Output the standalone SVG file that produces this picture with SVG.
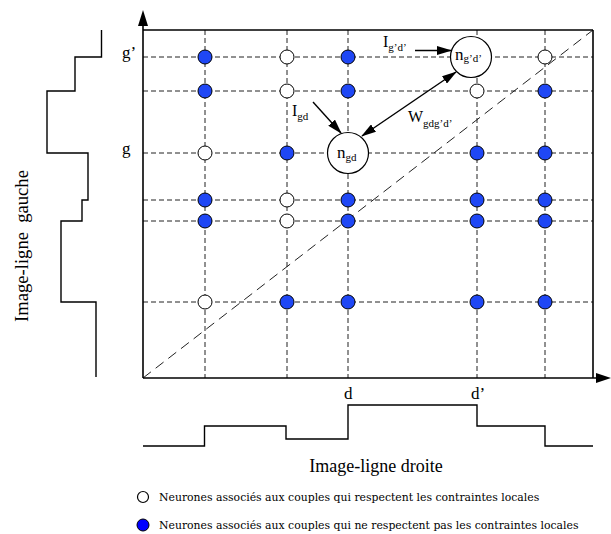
<svg xmlns="http://www.w3.org/2000/svg" width="611" height="534" viewBox="0 0 611 534">
<style>
.grid{stroke:#222;stroke-width:1;stroke-dasharray:5 3;fill:none}
.diag{stroke:#222;stroke-width:1;stroke-dasharray:10 6;fill:none}
.ax{stroke:#000;stroke-width:1.6;fill:none}
.step{stroke:#000;stroke-width:1.4;fill:none}
.b{fill:#1f47f5;stroke:#000;stroke-width:1}
.w{fill:#fff;stroke:#000;stroke-width:1}
.big{fill:#fff;stroke:#000;stroke-width:1.2}
.t{font-family:"Liberation Serif","Times New Roman",serif;fill:#000}
.leg{font-family:"DejaVu Serif",serif;font-size:10.85px;fill:#000}
.arr{stroke:#000;stroke-width:1.4;fill:none}
</style>
<defs>
<marker id="ah" markerWidth="15" markerHeight="9" refX="14" refY="4.5" orient="auto" markerUnits="userSpaceOnUse">
<path d="M0,0 L15,4.5 L0,9 Z" fill="#000"/>
</marker>
<marker id="ahs" markerWidth="15" markerHeight="9" refX="1" refY="4.5" orient="auto" markerUnits="userSpaceOnUse">
<path d="M15,0 L0,4.5 L15,9 Z" fill="#000"/>
</marker>
</defs>
<rect width="611" height="534" fill="#fff"/>

<g id="grid">
<line class="grid" x1="143" y1="57" x2="593" y2="57"/>
<line class="grid" x1="143" y1="91" x2="593" y2="91"/>
<line class="grid" x1="143" y1="153" x2="593" y2="153"/>
<line class="grid" x1="143" y1="200" x2="593" y2="200"/>
<line class="grid" x1="143" y1="221" x2="593" y2="221"/>
<line class="grid" x1="143" y1="302" x2="593" y2="302"/>
<line class="grid" x1="205" y1="30" x2="205" y2="378"/>
<line class="grid" x1="287" y1="30" x2="287" y2="378"/>
<line class="grid" x1="348" y1="30" x2="348" y2="378"/>
<line class="grid" x1="477" y1="30" x2="477" y2="378"/>
<line class="grid" x1="545" y1="30" x2="545" y2="378"/>
<line class="diag" x1="143" y1="378" x2="593" y2="30"/>
</g>

<g id="frame">
<line class="ax" x1="143" y1="30" x2="593" y2="30"/>
<line class="ax" x1="593" y1="30" x2="593" y2="378"/>
<line class="ax" x1="143" y1="378" x2="143" y2="24"/>
<polygon points="143,10 138,26 148,26" fill="#000"/>
<line class="ax" x1="143" y1="378" x2="598" y2="378"/>
<polygon points="611,378 596,373 596,383" fill="#000"/>
</g>

<g id="left-profile">
<path class="step" d="M101.5,30 V57 H75 V91 H47 V153 H88 V200 H82 V221 H61 V302 H96 V377"/>
</g>
<g id="bottom-profile">
<path class="step" d="M143,446 H204.5 V426 H286 V439 H348 V405 H477 V426 H545 V446 H593"/>
</g>

<g id="neurons">
<circle class="b" cx="205" cy="57" r="7"/>
<circle class="w" cx="287" cy="57" r="7"/>
<circle class="b" cx="348" cy="57" r="7"/>
<circle class="w" cx="545" cy="57" r="7"/>

<circle class="b" cx="205" cy="91" r="7"/>
<circle class="w" cx="287" cy="91" r="7"/>
<circle class="b" cx="348" cy="91" r="7"/>
<circle class="w" cx="477" cy="91" r="7"/>
<circle class="b" cx="545" cy="91" r="7"/>

<circle class="w" cx="205" cy="153" r="7"/>
<circle class="b" cx="287" cy="153" r="7"/>
<circle class="b" cx="477" cy="153" r="7"/>
<circle class="b" cx="545" cy="153" r="7"/>

<circle class="b" cx="205" cy="200" r="7"/>
<circle class="w" cx="287" cy="200" r="7"/>
<circle class="b" cx="348" cy="200" r="7"/>
<circle class="b" cx="477" cy="200" r="7"/>
<circle class="b" cx="545" cy="200" r="7"/>

<circle class="b" cx="205" cy="221" r="7"/>
<circle class="w" cx="287" cy="221" r="7"/>
<circle class="b" cx="348" cy="221" r="7"/>
<circle class="b" cx="477" cy="221" r="7"/>
<circle class="b" cx="545" cy="221" r="7"/>

<circle class="w" cx="205" cy="302" r="7"/>
<circle class="b" cx="287" cy="302" r="7"/>
<circle class="b" cx="348" cy="302" r="7"/>
<circle class="b" cx="477" cy="302" r="7"/>
<circle class="b" cx="545" cy="302" r="7"/>
</g>

<g id="n-gd">
<circle class="big" cx="348" cy="153" r="20.5"/>
<text class="t" x="337" y="158" font-size="17">n<tspan font-size="11" dy="3">gd</tspan></text>
</g>
<g id="n-gpdp">
<circle class="big" cx="471" cy="57" r="20.5"/>
<text class="t" x="455" y="60" font-size="17">n<tspan font-size="11" dy="2">g’d’</tspan></text>
</g>

<g id="connectors">
<line class="arr" x1="415" y1="50.5" x2="451" y2="50.5" marker-end="url(#ah)"/>
<line class="arr" x1="313" y1="102" x2="341" y2="133" marker-end="url(#ah)"/>
<line class="arr" x1="362" y1="136" x2="456" y2="72" marker-start="url(#ahs)" marker-end="url(#ah)"/>
</g>

<g id="labels">
<text class="t" x="383" y="47" font-size="16">I<tspan font-size="11" dy="4">g’d’</tspan></text>
<text class="t" x="292" y="116" font-size="16">I<tspan font-size="11" dy="4">gd</tspan></text>
<text class="t" x="408" y="122" font-size="16">W<tspan font-size="11" dy="5">gdg’d’</tspan></text>
<text class="t" x="122" y="58" font-size="17">g’</text>
<text class="t" x="122" y="154" font-size="17">g</text>
<text class="t" x="344" y="399" font-size="17">d</text>
<text class="t" x="471" y="399" font-size="17">d’</text>
<text class="t" x="376" y="472" font-size="18" text-anchor="middle">Image-ligne droite</text>
<text class="t" transform="translate(27.5,246) rotate(-90)" font-size="18.6" text-anchor="middle" xml:space="preserve">Image-ligne  gauche</text>
</g>

<g id="legend">
<circle cx="143" cy="497" r="5.5" fill="#fff" stroke="#000" stroke-width="1.2"/>
<text class="leg" x="159" y="501">Neurones associés aux couples qui respectent les contraintes locales</text>
<circle cx="143" cy="525" r="6" fill="#0000ff" stroke="#000" stroke-width="1"/>
<text class="leg" x="159" y="529">Neurones associés aux couples qui ne respectent pas les contraintes locales</text>
</g>
</svg>
